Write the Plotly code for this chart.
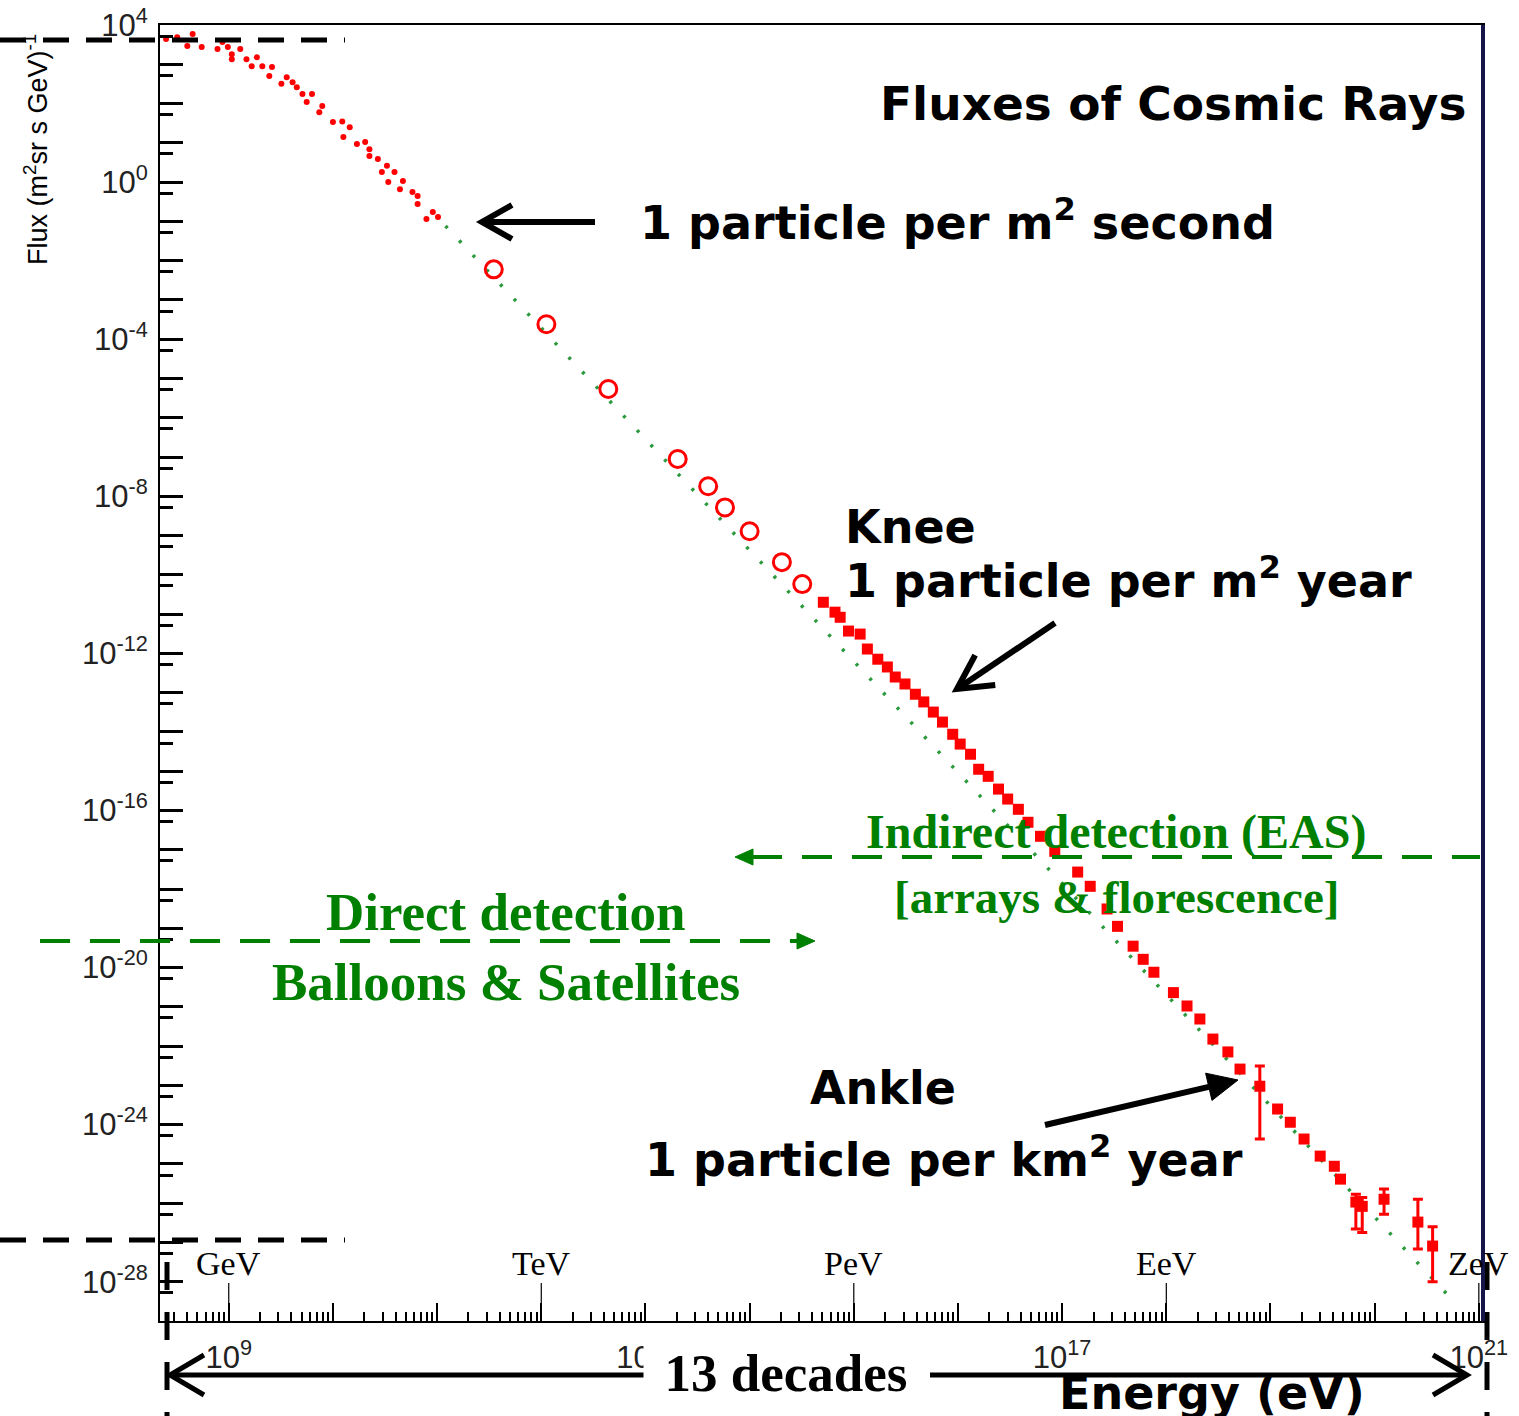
import math
import plotly.graph_objects as go

# ---------------- data ----------------
# direct measurements at low energy (small markers)
low_E = [2.5e8, 3.2e8, 4.5e8, 4.0e8, 5.5e8, 8.7e8, 9.8e8, 7.8e8, 1.29e9, 1.07e9, 1.07e9, 1.48e9,
         1.86e9, 1.66e9, 2.1e9, 2.6e9, 2.45e9, 3.6e9, 4.1e9, 3.2e9, 4.5e9, 5.1e9, 6.3e9, 5.6e9,
         7.9e9, 7.4e9, 1.0e10, 1.23e10, 1.45e10, 1.26e10, 1.7e10, 2.04e10, 2.24e10, 2.24e10, 2.7e10,
         3.3e10, 2.95e10, 3.9e10, 4.7e10, 3.4e10, 4.4e10, 5.8e10, 6.5e10, 6.5e10, 9.1e10, 1.02e11, 7.9e10]
low_F = [4.4e3, 4.9e3, 5.9e3, 2.9e3, 2.75e3, 3.7e3, 2.75e3, 2.45e3, 2.45e3, 1.8e3, 1.35e3, 1.35e3,
         1.5e3, 8.9e2, 8.9e2, 8.5e2, 5.0e2, 4.7e2, 3.5e2, 3.2e2, 2.6e2, 1.74e2, 1.74e2, 1.1e2,
         87, 60, 34, 35, 25, 14, 9.3, 10.5, 6.9, 4.6, 3.9,
         2.6, 1.8, 1.8, 1.07, 1.0, 0.66, 0.56, 0.44, 0.275, 0.174, 0.129, 0.115]

# balloon / satellite points (open rings)
ring_E = [3.5e11, 1.12e12, 4.4e12, 2.04e13, 4.0e13, 5.8e13, 1.0e14, 2.04e14, 3.2e14]
ring_F = [6.0e-3, 2.4e-4, 5.4e-6, 8.9e-8, 1.8e-8, 5.2e-9, 1.29e-9, 2.1e-10, 5.8e-11]

# air-shower points (filled)
eas_E = [5.1e14, 6.6e14, 7.4e14, 8.9e14, 1.15e15, 1.35e15, 1.7e15, 2.1e15, 2.5e15, 3.1e15, 3.9e15,
         4.7e15, 5.8e15, 7.1e15, 8.9e15, 1.05e16, 1.32e16, 1.58e16, 1.95e16, 2.45e16, 3.0e16, 3.8e16,
         4.7e16, 6.2e16, 8.5e16, 1.41e17, 1.86e17, 2.7e17, 3.4e17, 4.8e17, 6.0e17, 7.6e17, 1.17e18,
         1.58e18, 2.1e18, 2.8e18, 3.9e18, 5.1e18, 7.9e18, 1.17e19, 1.55e19, 2.1e19, 3.0e19, 4.1e19,
         4.7e19, 6.6e19, 7.6e19, 1.23e20, 2.6e20, 3.6e20]
eas_F = [2.0e-11, 1.12e-11, 8.3e-12, 3.7e-12, 3.1e-12, 1.29e-12, 7.1e-13, 4.5e-13, 2.5e-13, 1.66e-13,
         9.1e-14, 5.8e-14, 3.2e-14, 1.78e-14, 8.7e-15, 4.9e-15, 2.7e-15, 1.12e-15, 7.4e-16, 3.5e-16,
         1.95e-16, 1.07e-16, 5.0e-17, 2.2e-17, 9.1e-18, 2.7e-18, 1.17e-18, 3.1e-19, 1.12e-19, 3.5e-20,
         1.62e-20, 7.6e-21, 2.3e-21, 1.05e-21, 4.9e-22, 1.51e-22, 7.1e-23, 2.6e-23, 9.5e-24, 2.5e-24,
         1.15e-24, 4.3e-25, 1.58e-25, 8.7e-26, 4.1e-26, 1.07e-26, 8.3e-27, 1.26e-26, 3.3e-27, 8.1e-28]

# points with visible error bars
err_E = [7.9e18, 6.6e19, 7.6e19, 1.23e20, 2.6e20, 3.6e20]
err_F = [9.5e-24, 1.07e-26, 8.3e-27, 1.26e-26, 3.3e-27, 8.1e-28]
err_lo = [4.3e-25, 2.2e-27, 1.8e-27, 5.2e-27, 6.8e-28, 1.0e-28]
err_hi = [3.1e-23, 1.7e-26, 1.4e-26, 2.3e-26, 1.26e-26, 2.5e-27]

# green dotted power-law line
fit_E = [8.9e10, 1e12, 1e13, 1e14, 1e15, 1e16, 1e17, 1e18, 1e19, 1e20, 5.6e20]
fit_F = [0.18, 1.95e-4, 2.9e-7, 4.3e-10, 6.3e-13, 9.3e-16, 1.38e-18, 2.04e-21, 3.0e-24, 4.5e-27, 3.4e-29]

# axis ticks
y_decades = list(range(-29, 5))
y_label_decades = [4, 0, -4, -8, -12, -16, -20, -24, -28]
x_decades = list(range(9, 22))
x_label_decades = [9, 13, 17, 21]

# energy-scale names
scale_names = ["GeV", "TeV", "PeV", "EeV", "ZeV"]
scale_E = [1e9, 1e12, 1e15, 1e18, 1e21]

# ---------------- geometry helpers ----------------
W, H = 1519, 1416
L, T, R, B = 160, 25, 1483, 1321
XR = [8.34, 21.04]
YR = [-29, 4.0]


def P(x, y):
    return (x - L) / (R - L), (B - y) / (B - T)


RED = "#ff0000"
GREEN = "rgb(0,128,0)"

fig = go.Figure()

fig.add_trace(go.Scatter(x=fit_E, y=fit_F, mode="lines",
                         line=dict(color="#2a9a3c", width=3.5, dash="3px,17px"),
                         hoverinfo="skip", showlegend=False))
fig.add_trace(go.Scatter(x=low_E, y=low_F, mode="markers",
                         marker=dict(symbol="circle", size=6, color=RED),
                         showlegend=False))
fig.add_trace(go.Scatter(x=ring_E, y=ring_F, mode="markers",
                         marker=dict(symbol="circle-open", size=17, color=RED,
                                     line=dict(width=3, color=RED)),
                         showlegend=False))
fig.add_trace(go.Scatter(x=eas_E, y=eas_F, mode="markers",
                         marker=dict(symbol="square", size=11, color=RED),
                         showlegend=False))
fig.add_trace(go.Scatter(x=err_E, y=err_F, mode="markers",
                         marker=dict(symbol="square", size=8, color=RED),
                         error_y=dict(type="data", symmetric=False,
                                      array=[h - f for h, f in zip(err_hi, err_F)],
                                      arrayminus=[f - l for f, l in zip(err_F, err_lo)],
                                      color=RED, thickness=3, width=5),
                         showlegend=False))
# empty trace that carries the overlay axes holding the unlabeled decade ticks
fig.add_trace(go.Scatter(x=[], y=[], xaxis="x2", yaxis="y2", showlegend=False, hoverinfo="skip"))

# ticks
y_lab_vals = [10.0 ** k for k in y_label_decades]
y_lab_text = [f"10<sup>{k}</sup>" for k in y_label_decades]
y_other = [10.0 ** k for k in y_decades if k not in y_label_decades]
y_minor = [0.52 * 10.0 ** k for k in y_decades if -29 < k <= 4]
x_lab_vals = [10.0 ** k for k in x_label_decades]
x_lab_text = [f"10<sup>{k}</sup>" for k in x_label_decades]
x_other = [10.0 ** k for k in x_decades if k not in x_label_decades]
x_minor = [m * 10.0 ** k for k in range(8, 21) for m in range(2, 10) if 3e8 <= m * 10.0 ** k < 1e21]

tickfont = dict(family="Liberation Sans, Arial, sans-serif", size=31, color="#222")

common = dict(type="log", showgrid=False, zeroline=False, automargin=False)

fig.update_layout(
    xaxis=dict(**common, range=XR, showline=True, linecolor="black", linewidth=2, mirror=True,
               ticks="inside", ticklen=18, tickwidth=2, tickcolor="black",
               tickvals=x_lab_vals, ticktext=x_lab_text, tickfont=tickfont, ticklabelstandoff=8,
               minor=dict(tickvals=x_minor, ticks="inside", ticklen=9, tickwidth=2,
                          tickcolor="black", showgrid=False)),
    yaxis=dict(**common, range=YR, showline=True, linecolor="black", linewidth=2, mirror=True,
               ticks="inside", ticklen=23, tickwidth=2.5, tickcolor="black",
               tickvals=y_lab_vals, ticktext=y_lab_text, tickfont=tickfont, ticklabelstandoff=4,
               minor=dict(tickvals=y_minor, ticks="inside", ticklen=13, tickwidth=2.5,
                          tickcolor="black", showgrid=False)),
    xaxis2=dict(**common, range=XR, overlaying="x", anchor="y", side="bottom", showline=False,
                ticks="inside", ticklen=18, tickwidth=2, tickcolor="black",
                tickvals=x_other, showticklabels=False),
    yaxis2=dict(**common, range=YR, overlaying="y", anchor="x", side="left", showline=False,
                ticks="inside", ticklen=23, tickwidth=2.5, tickcolor="black",
                tickvals=y_other, showticklabels=False),
)

shapes = []
annotations = []


def seg(x0, y0, x1, y1, color="black", width=4, dash="solid"):
    a, b = P(x0, y0)
    c, d = P(x1, y1)
    shapes.append(dict(type="line", xref="paper", yref="paper", x0=a, y0=b, x1=c, y1=d,
                       line=dict(color=color, width=width, dash=dash)))


def arrow(x0, y0, x1, y1, width=5, hl=32, hw=20, color="black", filled=False):
    dx, dy = x1 - x0, y1 - y0
    n = (dx * dx + dy * dy) ** 0.5
    ux, uy = dx / n, dy / n
    px_, py_ = -uy, ux
    h1 = (x1 - hl * ux + hw * px_, y1 - hl * uy + hw * py_)
    h2 = (x1 - hl * ux - hw * px_, y1 - hl * uy - hw * py_)
    pts = [P(*h1), P(x1, y1), P(*h2)]
    if filled:
        path = "M{},{} L{},{} L{},{} Z".format(pts[0][0], pts[0][1], pts[1][0], pts[1][1], pts[2][0], pts[2][1])
        shapes.append(dict(type="path", xref="paper", yref="paper", path=path,
                           fillcolor=color, line=dict(color=color, width=1)))
        seg(x0, y0, x1 - hl * ux, y1 - hl * uy, color=color, width=width)
    else:
        path = "M{},{} L{},{} L{},{}".format(pts[0][0], pts[0][1], pts[1][0], pts[1][1], pts[2][0], pts[2][1])
        shapes.append(dict(type="path", xref="paper", yref="paper", path=path,
                           line=dict(color=color, width=width)))
        seg(x0, y0, x1, y1, color=color, width=width)


# black dashed guide lines
DASH_K = "26px,17px"
seg(0, 40, 345, 40, width=5, dash=DASH_K)
seg(0, 1240, 345, 1240, width=5, dash=DASH_K)
seg(167, 1262, 167, 1416, width=5, dash="28px,22px")
seg(1487, 1262, 1487, 1416, width=5, dash="28px,22px")

# green dashed lines with arrowheads
seg(752, 857, 1480, 857, color=GREEN, width=4, dash="30px,20px")
arrow(760, 857, 735, 857, width=4, hl=18, hw=8, color=GREEN, filled=True)
seg(40, 941, 798, 941, color=GREEN, width=4, dash="30px,20px")
arrow(790, 941, 815, 941, width=4, hl=18, hw=8, color=GREEN, filled=True)

# thick right frame
seg(1483, 25, 1483, 1321, color="#15154a", width=4)

# black annotation arrows
arrow(595, 222, 482, 222, width=6, hl=30, hw=17)
arrow(1055, 623, 957, 689, width=6, hl=34, hw=18)
arrow(1045, 1125, 1238, 1080, width=6, hl=30, hw=14, filled=True)
arrow(648, 1375, 170, 1375, width=5, hl=34, hw=20)
arrow(930, 1375, 1467, 1375, width=5, hl=34, hw=20)


def text(x, y, s, size, color="black", family="DejaVu Sans", anchor="center", bold=True, **kw):
    a, b = P(x, y)
    annotations.append(dict(xref="paper", yref="paper", x=a, y=b, text=(f"<b>{s}</b>" if bold else s),
                            showarrow=False, xanchor=anchor, yanchor="middle",
                            font=dict(family=family, size=size, color=color), **kw))


SANS = "DejaVu Sans, Liberation Sans, sans-serif"
SERIF = "Liberation Serif, Times New Roman, serif"

text(1173, 104, "Fluxes of Cosmic Rays", 47, family=SANS)
text(638, 220, "1 particle per m<sup>2</sup> second", 46, family=SANS, anchor="left")
text(843, 527, "Knee", 46, family=SANS, anchor="left")
text(843, 578, "1 particle per m<sup>2</sup> year", 46, family=SANS, anchor="left")
text(808, 1088, "Ankle", 46, family=SANS, anchor="left")
text(643, 1157, "1 particle per km<sup>2</sup> year", 46, family=SANS, anchor="left")

text(1116, 832, "Indirect detection (EAS)", 48, color=GREEN, family=SERIF)
text(1116, 897, "[arrays &amp; florescence]", 47, color=GREEN, family=SERIF)
text(506, 912, "Direct detection", 53, color=GREEN, family=SERIF)
text(506, 982, "Balloons &amp; Satellites", 53, color=GREEN, family=SERIF)

text(786, 1373, "13 decades", 53, family=SERIF, bgcolor="white", width=282, height=76)
text(1212, 1393, "Energy (eV)", 46, family=SANS)
text(36, 150, "Flux (m<sup>2</sup>sr s GeV)<sup>-1</sup>", 27, family="Liberation Sans, Arial, sans-serif",
     bold=False, textangle=-90)

# energy-scale markers (GeV, TeV, ...)
for name, e in zip(scale_names, scale_E):
    annotations.append(dict(xref="x", yref="paper", x=math.log10(e), y=0,
                            text=name, showarrow=True, arrowhead=0, arrowwidth=1.2,
                            arrowcolor="black", ax=0, ay=-58, standoff=0,
                            font=dict(family=SERIF, size=34, color="black")))

fig.update_layout(width=W, height=H, margin=dict(l=L, r=W - R, t=T, b=H - B, autoexpand=False),
                  paper_bgcolor="white", plot_bgcolor="white",
                  shapes=shapes, annotations=annotations, showlegend=False)

fig.write_html("out.html", config={"displayModeBar": False},
               post_script="document.body.style.margin='0';document.body.style.overflow='hidden';")
